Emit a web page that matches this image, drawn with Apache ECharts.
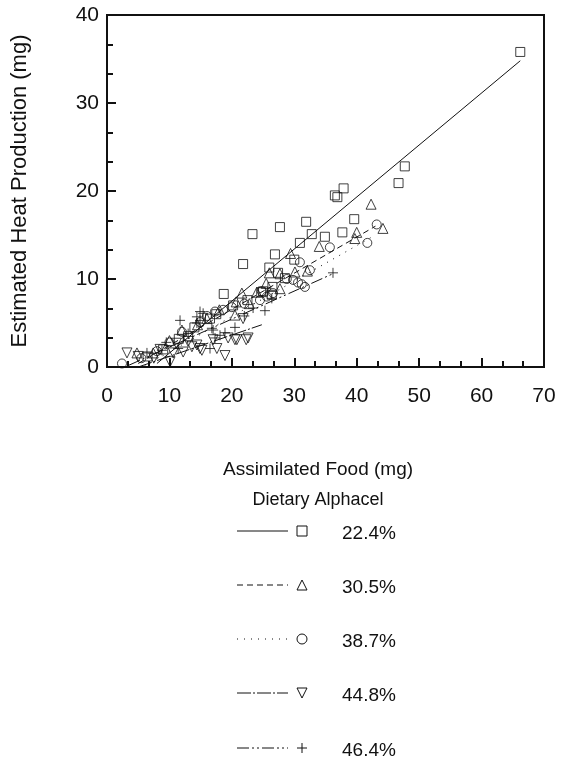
<!DOCTYPE html>
<html>
<head>
<meta charset="utf-8">
<script src="https://cdn.jsdelivr.net/npm/echarts@6/dist/echarts.min.js"></script>
<style>
html,body{margin:0;padding:0;background:#fff;}
#chart{width:561px;height:763px;}
</style>
</head>
<body>
<div id="chart"></div>
<script>
// ---- data ----
const groupNames = ['22.4%', '30.5%', '38.7%', '44.8%', '46.4%'];
const xTicks = [0, 10, 20, 30, 40, 50, 60, 70];
const yTicks = [0, 10, 20, 30, 40];

const pts224 = [[66.2,35.8],[47.7,22.8],[46.7,20.9],[37.9,20.3],[36.5,19.5],[36.9,19.3],[31.9,16.5],[39.6,16.8],[34.9,14.8],[37.7,15.3],[32.8,15.1],[30.9,14.1],[27.7,15.9],[23.3,15.1],[21.8,11.7],[18.7,8.3],[26.9,12.8],[26.0,11.3],[30.0,12.2],[27.4,10.7],[28.5,10.1],[26.5,9.1],[25.0,8.6],[26.4,8.2],[24.7,8.5],[20.2,7.0],[16.5,5.5],[14.0,4.5],[11.5,3.2],[9.0,2.0],[6.5,1.2],[13.0,3.5],[17.5,6.0],[22.5,7.6]];
const pts305 = [[42.3,18.5],[44.2,15.75],[40.0,15.3],[39.7,14.6],[34.0,13.7],[29.4,12.9],[27.7,10.6],[26.0,10.7],[30.1,10.8],[32.1,10.9],[27.7,8.9],[21.6,8.4],[22.8,7.2],[20.7,7.4],[20.5,5.9],[12.0,4.2],[7.4,1.6],[4.8,1.6],[16.0,5.5],[18.0,6.5],[14.5,4.8],[10.0,3.0],[24.0,8.5],[25.5,9.5]];
const pts387 = [[43.2,16.2],[41.7,14.1],[35.7,13.6],[30.9,11.9],[32.5,11.0],[28.8,10.0],[30.6,9.6],[31.7,9.1],[29.8,9.9],[31.2,9.4],[24.8,8.6],[26.6,8.4],[24.5,7.6],[25.6,8.0],[14.9,5.1],[17.3,6.3],[18.6,6.5],[2.4,0.4],[12.0,4.0],[10.0,2.8],[20.0,6.8],[22.0,7.2],[16.0,5.8],[8.0,1.8],[5.5,1.0]];
const pts448 = [[18.9,1.3],[19.4,3.3],[20.8,3.1],[22.3,3.1],[3.2,1.6],[14.9,2.1],[13.6,2.3],[10.1,0.6],[22.6,3.3],[21.8,5.5],[20.5,3.1],[17.6,2.1],[15.2,1.9],[12.2,1.7],[10.6,1.6],[11.1,2.7],[13.0,2.9],[14.4,2.5],[17.0,3.1],[5.0,1.2],[7.5,1.0],[8.5,2.0]];
const pts464 = [[36.2,10.7],[25.3,6.4],[26.4,7.8],[23.4,6.7],[15.4,6.1],[17.0,4.2],[16.5,2.1],[14.4,5.0],[14.9,5.3],[18.1,3.6],[16.8,4.4],[17.3,3.3],[14.4,5.7],[14.9,6.3],[11.4,2.1],[8.8,1.9],[6.4,1.6],[18.9,3.9],[11.7,5.3],[20.5,4.5],[22.0,5.8],[13.0,3.8],[9.5,2.8]];

// fitted lines (end points)
const fit224 = [[8,0.4],[66.2,34.8]];
const fit305 = [[5,0.4],[43,16.0]];
const fit387 = [[6,0.1],[42.5,14.8]];
const fit448 = [[5,0.0],[24.8,4.8]];
const fit464 = [[3.5,0.2],[36.2,10.6]];

// ---- styles ----
const FONT = "'Liberation Sans', Arial, Helvetica, sans-serif";
const INK = '#111';
const dashes = ['solid', [6,4], [1,6], [14,2,2,2], [12,3,2,3,2,3]];
const plusPath = 'path://M0,5L10,5M5,0L5,10';
const markers = [
  {symbol:'rect', size:9, rotate:0},
  {symbol:'triangle', size:10, rotate:0},
  {symbol:'circle', size:9, rotate:0},
  {symbol:'triangle', size:10, rotate:180},
  {symbol:plusPath, size:10, rotate:0}
];
const ptsAll = [pts224, pts305, pts387, pts448, pts464];
const fitsAll = [fit224, fit305, fit387, fit448, fit464];

const series = [];
groupNames.forEach((n, i) => {
  series.push({
    name: n, type: 'line', data: fitsAll[i], symbol: 'none', silent: true,
    lineStyle: {color: INK, width: 1, type: dashes[i]}, z: 2
  });
  series.push({
    name: n + ' pts', type: 'scatter', data: ptsAll[i],
    symbol: markers[i].symbol, symbolSize: markers[i].size, symbolRotate: markers[i].rotate,
    itemStyle: {color: 'rgba(0,0,0,0)', borderColor: INK, borderWidth: 1}, z: 3
  });
});

// ---- titles and legend drawn as graphics ----
const legendRows = [531, 585, 639, 693, 748];
const graphics = [];
graphics.push({type:'text', x: 318, y: 470, style:{text:'Assimilated Food (mg)', font:'19px ' + FONT, fill: INK, textAlign:'center', textVerticalAlign:'middle'}});
graphics.push({type:'text', x: 318, y: 500, style:{text:'Dietary Alphacel', font:'18px ' + FONT, fill: INK, textAlign:'center', textVerticalAlign:'middle'}});
legendRows.forEach((y, i) => {
  const d = dashes[i];
  graphics.push({type:'line', shape:{x1:237, y1:y, x2:288, y2:y},
    style:{stroke: INK, lineWidth:1, lineDash: d === 'solid' ? null : d}});
  const cx = 302, s = 5;
  if (i === 0) graphics.push({type:'rect', shape:{x:cx-s, y:y-s, width:2*s, height:2*s}, style:{stroke:INK, fill:'none', lineWidth:1}});
  if (i === 1) graphics.push({type:'polygon', shape:{points:[[cx,y-s],[cx+s,y+s],[cx-s,y+s]]}, style:{stroke:INK, fill:'none', lineWidth:1}});
  if (i === 2) graphics.push({type:'circle', shape:{cx:cx, cy:y, r:s}, style:{stroke:INK, fill:'none', lineWidth:1}});
  if (i === 3) graphics.push({type:'polygon', shape:{points:[[cx-s,y-s],[cx+s,y-s],[cx,y+s]]}, style:{stroke:INK, fill:'none', lineWidth:1}});
  if (i === 4) {
    graphics.push({type:'line', shape:{x1:cx-s, y1:y, x2:cx+s, y2:y}, style:{stroke:INK, lineWidth:1}});
    graphics.push({type:'line', shape:{x1:cx, y1:y-s, x2:cx, y2:y+s}, style:{stroke:INK, lineWidth:1}});
  }
  graphics.push({type:'text', x:342, y:y+3, style:{text: groupNames[i], font:'19px ' + FONT, fill: INK, textVerticalAlign:'middle'}});
});

const chart = echarts.init(document.getElementById('chart'), null, {renderer:'canvas'});
chart.setOption({
  animation: false,
  backgroundColor: '#fff',
  grid: {left:107, right:17, top:15, bottom:396, show:true, borderColor:INK, borderWidth:2, backgroundColor:'transparent', containLabel:false, outerBoundsMode:'none'},
  xAxis: {
    type:'value', min: xTicks[0], max: xTicks[xTicks.length-1], interval: 10,
    axisLine:{show:true, onZero:false, lineStyle:{color:INK, width:2}},
    axisTick:{show:true, inside:true, length:9, lineStyle:{color:INK, width:2}},
    minorTick:{show:true, splitNumber:3, length:6, lineStyle:{color:INK, width:2}},
    axisLabel:{fontSize:21, color:INK, fontFamily:FONT, margin:19},
    splitLine:{show:false}, minorSplitLine:{show:false}
  },
  yAxis: {
    type:'value', min: yTicks[0], max: yTicks[yTicks.length-1], interval: 10,
    name:'Estimated Heat Production (mg)', nameLocation:'middle', nameGap:76, nameRotate:90,
    nameTextStyle:{fontSize:22, color:INK, fontFamily:FONT},
    axisLine:{show:true, onZero:false, lineStyle:{color:INK, width:2}},
    axisTick:{show:true, inside:true, length:9, lineStyle:{color:INK, width:2}},
    minorTick:{show:true, splitNumber:3, length:6, lineStyle:{color:INK, width:2}},
    axisLabel:{fontSize:21, color:INK, fontFamily:FONT, margin:8},
    splitLine:{show:false}, minorSplitLine:{show:false}
  },
  series: series,
  graphic: graphics
});
</script>
</body>
</html>
